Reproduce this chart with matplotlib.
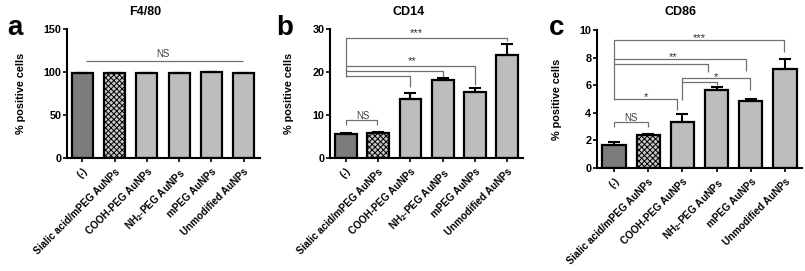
import matplotlib
matplotlib.use("Agg")
import matplotlib.pyplot as plt
import numpy as np

plt.rcParams['font.family'] = ['Liberation Sans', 'DejaVu Sans']
plt.rcParams['font.weight'] = 'bold'
plt.rcParams['mathtext.fontset'] = 'custom'
plt.rcParams['mathtext.rm'] = 'Liberation Sans:bold'
plt.rcParams['mathtext.bf'] = 'Liberation Sans:bold'
plt.rcParams['hatch.linewidth'] = 0.7
plt.rcParams['hatch.color'] = 'black'

categories = ["(-)", "Sialic acid/mPEG AuNPs", "COOH-PEG AuNPs",
              r"NH$_2$-PEG AuNPs", "mPEG AuNPs", "Unmodified AuNPs"]

f480_vals = [99, 99, 98.8, 99, 99.5, 98.8]
f480_err = [0.3, 0.4, 0.3, 0.3, 0.4, 0.3]
cd14_vals = [5.6, 5.7, 13.8, 18.1, 15.3, 23.9]
cd14_err = [0.2, 0.4, 1.3, 0.4, 1.0, 2.7]
cd86_vals = [1.67, 2.39, 3.31, 5.63, 4.83, 7.15]
cd86_err = [0.21, 0.10, 0.62, 0.22, 0.17, 0.75]

titles = ["F4/80", "CD14", "CD86"]
letters = ["a", "b", "c"]
yticks = [[0, 50, 100, 150], [0, 10, 20, 30], [0, 2, 4, 6, 8, 10]]

# brackets: (x_left, x_right, height, left_leg_bottom, right_leg_bottom)
f480_brackets = [(0.1, 4.98, 112.8, 112.8, 112.8)]
f480_labels = [(2.5, 121, "NS")]
cd14_brackets = [(0, 0.96, 8.8, 7.7, 7.7),
                 (0, 2.0, 19.1, 19.1, 16.6),
                 (0, 3.0, 20.2, 20.2, 18.9),
                 (0, 4.0, 21.5, 21.5, 17.0),
                 (0, 4.98, 28.0, 18.9, 27.1)]
cd14_labels = [(0.52, 9.8, "NS"), (2.04, 22.6, "**"), (2.17, 29.0, "***")]
cd86_brackets = [(0, 1.0, 3.31, 3.0, 3.0),
                 (0, 1.84, 5.0, 5.0, 4.2),
                 (2.0, 3.97, 6.5, 4.93, 5.65),
                 (2.0, 3.0, 6.21, 6.21, 6.01),
                 (0, 2.76, 7.51, 7.51, 6.98),
                 (0, 3.85, 7.87, 7.87, 7.03),
                 (0, 4.98, 9.28, 4.93, 8.43)]
cd86_labels = [(0.49, 3.65, "NS"), (0.92, 5.15, "*"), (2.97, 6.6, "*"),
               (1.73, 8.05, "**"), (2.49, 9.45, "***")]

fig = plt.figure(figsize=(8.05, 2.71), dpi=100)
rects = [[67/805, 1-158/271, 193/805, 129/271],
         [330/805, 1-158/271, 193/805, 129/271],
         [597/805, 1-168/271, 205/805, 138/271]]
xlims = [(-0.48, 5.51), (-0.49, 5.48), (-0.5, 5.5)]
widths = [0.65, 0.68, 0.68]
title_x = [145, 409, 680]
letter_x = [15, 285, 557]
ylabel_pad = [13, 13, 13]

datasets = [(f480_vals, f480_err, f480_brackets, f480_labels),
            (cd14_vals, cd14_err, cd14_brackets, cd14_labels),
            (cd86_vals, cd86_err, cd86_brackets, cd86_labels)]

colors = ['#7c7c7c', '#c8c8c8', '#bdbdbd', '#bdbdbd', '#bdbdbd', '#bdbdbd']
hatches = [None, 'xxxxxx', None, None, None, None]

for i, (vals, errs, brackets, labels) in enumerate(datasets):
    ax = fig.add_axes(rects[i])
    x = np.arange(len(categories))
    bars = ax.bar(x, vals, width=widths[i], color=colors, edgecolor='black',
                  linewidth=1.6, zorder=2)
    for b, h in zip(bars, hatches):
        if h:
            b.set_hatch(h)
    ax.errorbar(x, vals, yerr=[np.zeros(len(vals)), errs], fmt='none',
                ecolor='black', elinewidth=1.5, capsize=4.5, capthick=1.5, zorder=3)
    for (xl, xr, h, bl, br) in brackets:
        ax.plot([xl, xl, xr, xr], [bl, h, h, br], color='#707070', lw=0.9,
                zorder=1, solid_capstyle='butt')
    for (tx, ty, s) in labels:
        if s == "NS":
            ax.text(tx, ty, s, ha='center', va='center', fontsize=7,
                    color='#404040', fontweight='normal')
        else:
            ax.text(tx, ty, s, ha='center', va='center', fontsize=8,
                    color='#303030', fontweight='normal')
    ax.set_xlim(*xlims[i])
    ax.set_ylim(yticks[i][0], yticks[i][-1])
    ax.set_yticks(yticks[i])
    ax.set_xticks(x)
    ax.set_xticklabels(categories, rotation=45, ha='right',
                       rotation_mode='anchor', fontsize=7.2, fontweight='bold')
    ax.tick_params(axis='y', labelsize=7.8, length=3, width=1.2, pad=1)
    ax.tick_params(axis='x', length=3, width=1.2, pad=3)
    for lab in ax.get_yticklabels():
        lab.set_fontweight('bold')
    ax.spines['top'].set_visible(False)
    ax.spines['right'].set_visible(False)
    ax.spines['left'].set_linewidth(1.5)
    ax.spines['bottom'].set_linewidth(1.5)
    ax.set_ylabel("% positive cells", fontsize=7.8, fontweight='bold',
                  labelpad=ylabel_pad[i])
    fig.text(title_x[i]/805, 1-12/271, titles[i], ha='center', va='center',
             fontsize=9, fontweight='bold')
    fig.text(letter_x[i]/805, 1-28/271, letters[i], ha='center', va='center',
             fontsize=20, fontweight='bold')

fig.savefig("out.png", dpi=100)
